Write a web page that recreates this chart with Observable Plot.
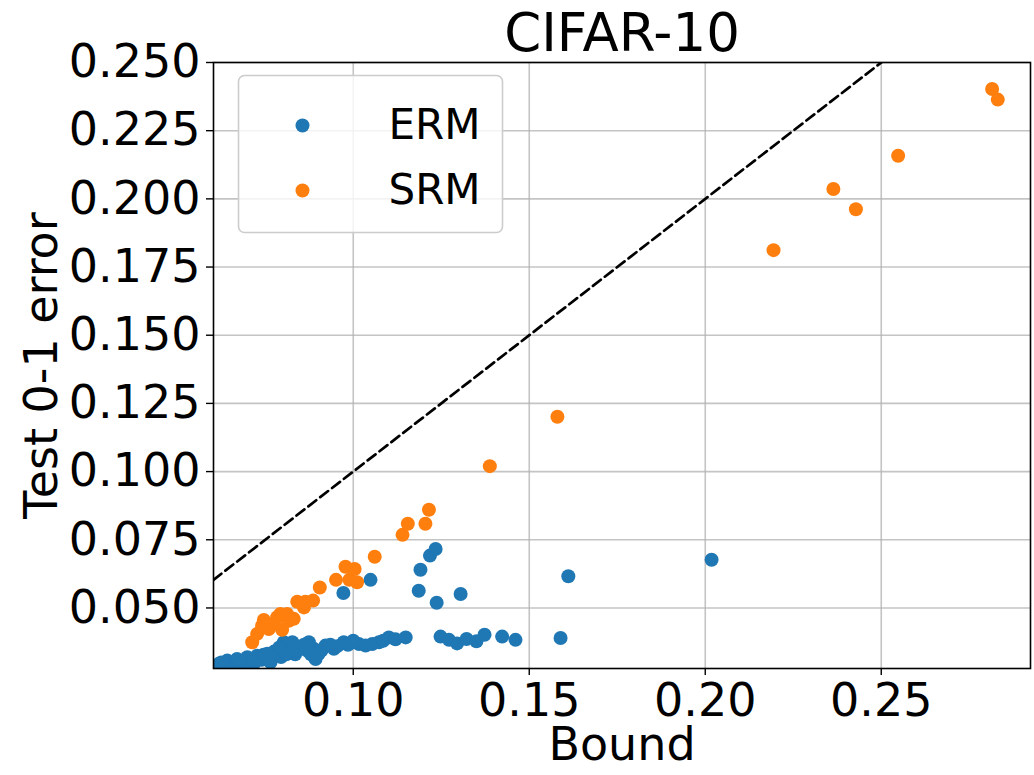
<!DOCTYPE html>
<html>
<head>
<meta charset="utf-8">
<script src="https://cdn.jsdelivr.net/npm/d3@7"></script>
<script src="https://cdn.jsdelivr.net/npm/@observablehq/plot@0.6"></script>
<style>
  html, body { margin: 0; padding: 0; background: white; }
  #chart { width: 1034px; height: 775px; }
</style>
</head>
<body>
<div id="chart"></div>
<script>
// ---- data ----
const title = "CIFAR-10";
const xLabel = "Bound";
const yLabel = "Test 0-1 error";
const seriesNames = ["ERM", "SRM"];
const seriesColors = ["#1f77b4", "#ff7f0e"];

const xTicks = [0.10, 0.15, 0.20, 0.25];
const yTicks = [0.050, 0.075, 0.100, 0.125, 0.150, 0.175, 0.200, 0.225, 0.250];
const xDomain = [0.0603, 0.2924];
const yDomain = [0.0278, 0.250];

const ermBound = [0.0618, 0.0630, 0.0642, 0.0651, 0.0660, 0.0670, 0.0690, 0.0699, 0.0708, 0.0727,
  0.0740, 0.0756, 0.0765, 0.0784, 0.0795, 0.0803, 0.0817, 0.0827, 0.0835, 0.0850,
  0.0869, 0.0874, 0.0888, 0.0893, 0.0902, 0.0921, 0.0945, 0.0973, 0.0997, 0.1016,
  0.1035, 0.1054, 0.1073, 0.1101, 0.1149, 0.1248, 0.1272, 0.1295, 0.1322, 0.1350,
  0.1373, 0.1423, 0.1461, 0.1589, 0.0972, 0.1049, 0.1186, 0.1191, 0.1218, 0.1234,
  0.1237, 0.1305, 0.1611, 0.2018,
  0.0625, 0.0680, 0.0720, 0.0745, 0.0775, 0.0790, 0.0810, 0.0840, 0.0860, 0.0880,
  0.0910, 0.0935, 0.0955, 0.0985, 0.1000, 0.1085, 0.1120];
const ermError = [0.0295, 0.0290, 0.0307, 0.0282, 0.0296, 0.0313, 0.0300, 0.0319, 0.0295, 0.0325,
  0.0310, 0.0332, 0.0301, 0.0337, 0.0320, 0.0374, 0.0344, 0.0374, 0.0330, 0.0356,
  0.0344, 0.0374, 0.0350, 0.0313, 0.0332, 0.0362, 0.0350, 0.0374, 0.0374, 0.0368,
  0.0362, 0.0368, 0.0374, 0.0392, 0.0392, 0.0395, 0.0383, 0.0370, 0.0386, 0.0378,
  0.0402, 0.0395, 0.0383, 0.0390, 0.0555, 0.0603, 0.0563, 0.0640, 0.0692, 0.0716,
  0.0519, 0.0551, 0.0616, 0.0677,
  0.0300, 0.0290, 0.0300, 0.0328, 0.0340, 0.0355, 0.0330, 0.0345, 0.0365, 0.0330,
  0.0345, 0.0365, 0.0360, 0.0365, 0.0380, 0.0380, 0.0385];

const srmBound = [0.0713, 0.0727, 0.0741, 0.0746, 0.0760, 0.0770, 0.0784, 0.0793, 0.0798, 0.0812,
  0.0817, 0.0831, 0.0841, 0.0860, 0.0864, 0.0886, 0.0905, 0.0951, 0.0978, 0.0989,
  0.1004, 0.1011, 0.1061, 0.1140, 0.1155, 0.1205, 0.1215, 0.1388, 0.1580, 0.2194,
  0.2364, 0.2428, 0.2548, 0.2815, 0.2831];
const srmError = [0.0374, 0.0405, 0.0435, 0.0456, 0.0423, 0.0440, 0.0466, 0.0478, 0.0420, 0.0478,
  0.0453, 0.0460, 0.0523, 0.0502, 0.0523, 0.0527, 0.0575, 0.0603, 0.0651, 0.0603,
  0.0643, 0.0594, 0.0688, 0.0768, 0.0809, 0.0809, 0.0860, 0.1020, 0.1201, 0.1812,
  0.2036, 0.1962, 0.2158, 0.2403, 0.2364];

// ---- build ----
const erm = ermBound.map((b, i) => ({bound: b, error: ermError[i]}));
const srm = srmBound.map((b, i) => ({bound: b, error: srmError[i]}));
const diagonal = xDomain; // y = x reference line

const W = 1034, H = 775;
const mL = 213, mR = 4, mT = 62, mB = 107;
const font = "DejaVu Sans, sans-serif";

const chart = Plot.plot({
  width: W, height: H,
  marginLeft: mL, marginRight: mR, marginTop: mT, marginBottom: mB,
  style: {fontFamily: font, background: "white", color: "black", overflow: "visible"},
  x: {domain: xDomain, label: null},
  y: {domain: yDomain, label: null},
  marks: [
    Plot.gridX(xTicks, {stroke: "#b0b0b0", strokeOpacity: 0.75, strokeWidth: 1.6}),
    Plot.gridY(yTicks, {stroke: "#b0b0b0", strokeOpacity: 0.75, strokeWidth: 1.6}),
    Plot.line(diagonal, {x: d => d, y: d => d, stroke: "black", strokeWidth: 2.7, strokeDasharray: "10,5", clip: true}),
    Plot.dot(erm, {x: "bound", y: "error", r: 7, fill: seriesColors[0], stroke: "none", clip: true}),
    Plot.dot(srm, {x: "bound", y: "error", r: 7, fill: seriesColors[1], stroke: "none", clip: true}),
    Plot.frame({stroke: "black", strokeWidth: 1.6}),
    Plot.axisX(xTicks, {tickFormat: ".2f", tickSize: 7, tickPadding: 8, fontSize: 46, strokeWidth: 1.4, label: null}),
    Plot.axisY(yTicks, {tickFormat: ".3f", tickSize: 7, tickPadding: 6, fontSize: 46, strokeWidth: 1.4, label: null}),
    Plot.text([xLabel], {frameAnchor: "bottom", dy: 77, fontSize: 46, lineAnchor: "middle", textAnchor: "middle"}),
    Plot.text([yLabel], {frameAnchor: "left", dx: -171, rotate: -90, fontSize: 46, lineAnchor: "middle", textAnchor: "middle"}),
    Plot.text([title], {frameAnchor: "top", dy: -12, fontSize: 53, lineAnchor: "bottom", textAnchor: "middle"}),
    // legend
    Plot.frame({insetLeft: 25, insetTop: 13, insetRight: W - mR - mL - (502 - mL), insetBottom: H - mB - mT - (232 - mT), rx: 6, stroke: "#cccccc", strokeWidth: 1.6, fill: "white", fillOpacity: 0.8}),
    Plot.dot([seriesNames[0]], {frameAnchor: "top-left", dx: 302 - mL, dy: 125 - mT, r: 7, fill: seriesColors[0], stroke: "none"}),
    Plot.dot([seriesNames[1]], {frameAnchor: "top-left", dx: 302 - mL, dy: 190 - mT, r: 7, fill: seriesColors[1], stroke: "none"}),
    Plot.text([seriesNames[0]], {frameAnchor: "top-left", dx: 388 - mL, dy: 125 - mT, fontSize: 42, textAnchor: "start", lineAnchor: "middle"}),
    Plot.text([seriesNames[1]], {frameAnchor: "top-left", dx: 388 - mL, dy: 190 - mT, fontSize: 42, textAnchor: "start", lineAnchor: "middle"})
  ]
});
document.getElementById("chart").appendChild(chart);
</script>
</body>
</html>
